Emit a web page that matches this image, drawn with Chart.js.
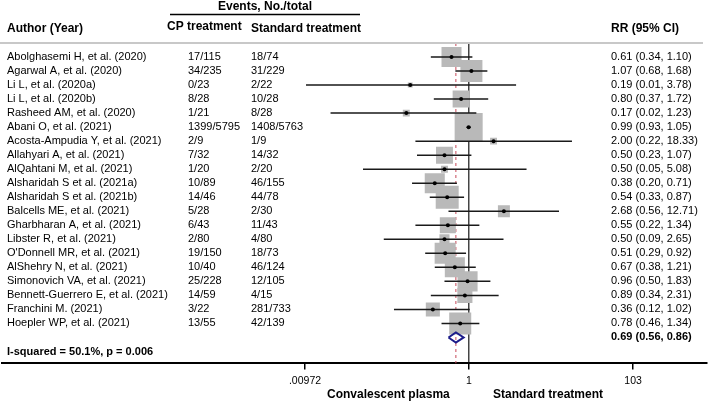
<!DOCTYPE html>
<html>
<head>
<meta charset="utf-8">
<script src="https://cdn.jsdelivr.net/npm/chart.js@4/dist/chart.umd.min.js"></script>
<style>
  html, body { margin: 0; padding: 0; background: #fff; }
  #wrap { position: relative; width: 709px; height: 402px; }
</style>
</head>
<body>
<div id="wrap"><canvas id="chartForest"></canvas></div>
<script>
// study data
var authors = [
    "Abolghasemi H, et al. (2020)", "Agarwal A, et al. (2020)", "Li L, et al. (2020a)",
    "Li L, et al. (2020b)", "Rasheed AM, et al. (2020)", "Abani O, et al. (2021)",
    "Acosta-Ampudia Y, et al. (2021)", "Allahyari A, et al. (2021)", "AlQahtani M, et al. (2021)",
    "Alsharidah S et al. (2021a)", "Alsharidah S et al. (2021b)", "Balcells ME, et al. (2021)",
    "Gharbharan A, et al. (2021)", "Libster R, et al. (2021)", "O'Donnell MR, et al. (2021)",
    "AlShehry N, et al. (2021)", "Simonovich VA, et al. (2021)", "Bennett-Guerrero E, et al. (2021)",
    "Franchini M. (2021)", "Hoepler WP, et al. (2021)"
];
var cpEvents = ["17/115", "34/235", "0/23", "8/28", "1/21", "1399/5795", "2/9", "7/32", "1/20", "10/89",
    "14/46", "5/28", "6/43", "2/80", "19/150", "10/40", "25/228", "14/59", "3/22", "13/55"];
var stdEvents = ["18/74", "31/229", "2/22", "10/28", "8/28", "1408/5763", "1/9", "14/32", "2/20", "46/155",
    "44/78", "2/30", "11/43", "4/80", "18/73", "46/124", "12/105", "4/15", "281/733", "42/139"];
var rr = [0.61, 1.07, 0.19, 0.80, 0.17, 0.99, 2.00, 0.50, 0.50, 0.38, 0.54, 2.68, 0.55, 0.50, 0.51, 0.67, 0.96, 0.89, 0.36, 0.78];
var rrLow = [0.34, 0.68, 0.01, 0.37, 0.02, 0.93, 0.22, 0.23, 0.05, 0.20, 0.33, 0.56, 0.22, 0.09, 0.29, 0.38, 0.50, 0.34, 0.12, 0.46];
var rrHigh = [1.10, 1.68, 3.78, 1.72, 1.23, 1.05, 18.33, 1.07, 5.08, 0.71, 0.87, 12.71, 1.34, 2.65, 0.92, 1.21, 1.83, 2.31, 1.02, 1.34];
// weights (%)
var weights = [6.7, 8.1, 0.4, 4.8, 0.8, 13.1, 0.8, 4.8, 0.8, 6.7, 8.8, 2.4, 4.3, 1.7, 7.4, 6.7, 6.7, 3.8, 3.3, 8.1];

var pooled = { rr: 0.69, low: 0.56, high: 0.86 };
var heterogeneity = "I-squared = 50.1%, p = 0.006";

var tickValues = [0.00972, 1, 103];
var tickLabels = [".00972", "1", "103"];

var FONT = "'Liberation Sans', Arial, sans-serif";

var nStudies = authors.length;
var pooledRow = nStudies;
var hetRow = nStudies + 1;

function fmt(v) { return v.toFixed(2); }

var boxData = [], dotData = [], ciData = [];
for (var i = 0; i < nStudies; i++) {
    boxData.push({ x: rr[i], y: i });
    dotData.push({ x: rr[i], y: i });
    ciData.push({ x: rrLow[i], y: i });
    ciData.push({ x: rrHigh[i], y: i });
    ciData.push({ x: null, y: null });
}

var diamondData = [
    { x: pooled.low, y: pooledRow },
    { x: pooled.rr, y: pooledRow - 0.36 },
    { x: pooled.high, y: pooledRow },
    { x: pooled.rr, y: pooledRow + 0.36 },
    { x: pooled.low, y: pooledRow }
];

// table text drawn next to the rows
var tablePlugin = {
    id: "forestTable",
    afterDraw: function(chart) {
        var ctx = chart.ctx;
        var y = chart.scales.y;
        ctx.save();
        ctx.fillStyle = "#000";
        ctx.textBaseline = "middle";

        // header
        ctx.font = "bold 12px " + FONT;
        ctx.textAlign = "center";
        ctx.fillText("Events, No./total", 265, 7);
        ctx.textAlign = "left";
        ctx.fillText("Author (Year)", 7, 29);
        ctx.fillText("CP treatment", 167, 27);
        ctx.fillText("Standard treatment", 251, 29);
        ctx.fillText("RR (95% CI)", 611, 29);

        ctx.strokeStyle = "#000";
        ctx.lineWidth = 1.5;
        ctx.beginPath();
        ctx.moveTo(170, 14.5);
        ctx.lineTo(360, 14.5);
        ctx.stroke();

        ctx.strokeStyle = "#c8c8c8";
        ctx.lineWidth = 2;
        ctx.beginPath();
        ctx.moveTo(0, 43);
        ctx.lineTo(703, 43);
        ctx.stroke();

        // rows
        ctx.font = "11px " + FONT;
        for (var i = 0; i < nStudies; i++) {
            var py = y.getPixelForValue(i);
            ctx.fillText(authors[i], 7, py);
            ctx.fillText(cpEvents[i], 188, py);
            ctx.fillText(stdEvents[i], 251, py);
            ctx.fillText(fmt(rr[i]) + " (" + fmt(rrLow[i]) + ", " + fmt(rrHigh[i]) + ")", 611, py);
        }
        ctx.font = "bold 11px " + FONT;
        ctx.fillText(fmt(pooled.rr) + " (" + fmt(pooled.low) + ", " + fmt(pooled.high) + ")", 611, y.getPixelForValue(pooledRow));
        ctx.fillText(heterogeneity, 7, y.getPixelForValue(hetRow));

        // axis side labels
        ctx.font = "bold 12px " + FONT;
        ctx.fillText("Convalescent plasma", 327, 395);
        ctx.fillText("Standard treatment", 493, 395);
        ctx.restore();
    }
};

var ctx = document.getElementById("chartForest");
var forest = new Chart(ctx, {
    type: "scatter",
    data: {
        datasets: [{
                label: "weight",
                data: boxData,
                pointStyle: "rect",
                pointRadius: weights.map(function(w) { return Math.sqrt(w) * 7.74 / 1.414; }),
                backgroundColor: "#b9b9b9",
                borderWidth: 0,
                order: 4,
            },
            {
                label: "ci",
                type: "line",
                data: ciData,
                borderColor: "#1a1a1a",
                borderWidth: 1.5,
                pointRadius: 0,
                spanGaps: false,
                order: 3,
            },
            {
                label: "rr",
                data: dotData,
                pointStyle: "circle",
                pointRadius: 2,
                backgroundColor: "#000",
                borderWidth: 0,
                order: 2,
            },
            {
                label: "pooled line",
                type: "line",
                data: [{ x: pooled.rr, y: -1 }, { x: pooled.rr, y: 21.85 }],
                borderColor: "#c84a5a",
                borderWidth: 1,
                borderDash: [3, 3],
                pointRadius: 0,
                order: 5,
            },
            {
                label: "pooled",
                type: "line",
                data: diamondData,
                borderColor: "#1c1c8a",
                borderWidth: 2,
                pointRadius: 0,
                fill: false,
                order: 1,
            },
        ],
    },
    plugins: [tablePlugin],
    options: {
        responsive: true,
        maintainAspectRatio: false,
        animation: false,
        layout: {
            autoPadding: false,
            padding: { left: 2, right: 2, top: 43, bottom: 10 },
        },
        plugins: {
            legend: { display: false },
            tooltip: { enabled: false },
        },
        scales: {
            x: {
                type: "logarithmic",
                bounds: "data",
                min: 1.862e-6,
                max: 831.8,
                afterBuildTicks: function(scale) {
                    scale.ticks = tickValues.map(function(v) { return { value: v }; });
                },
                ticks: {
                    autoSkip: false,
                    maxRotation: 0,
                    padding: 5,
                    color: "#000",
                    font: { family: FONT, size: 10.5 },
                    callback: function(value) {
                        var k = tickValues.indexOf(value);
                        return k >= 0 ? tickLabels[k] : "";
                    },
                },
                grid: {
                    color: function(c) { return c.tick && c.tick.value === 1 ? "#444" : "rgba(0,0,0,0)"; },
                    lineWidth: 1.5,
                    tickColor: "#000",
                    tickLength: 6,
                    drawOnChartArea: true,
                },
                border: { display: true, color: "#000", width: 2 },
            },
            y: {
                type: "linear",
                display: false,
                reverse: true,
                min: -1,
                max: 21.85,
            },
        },
    },
});
</script>
</body>
</html>
